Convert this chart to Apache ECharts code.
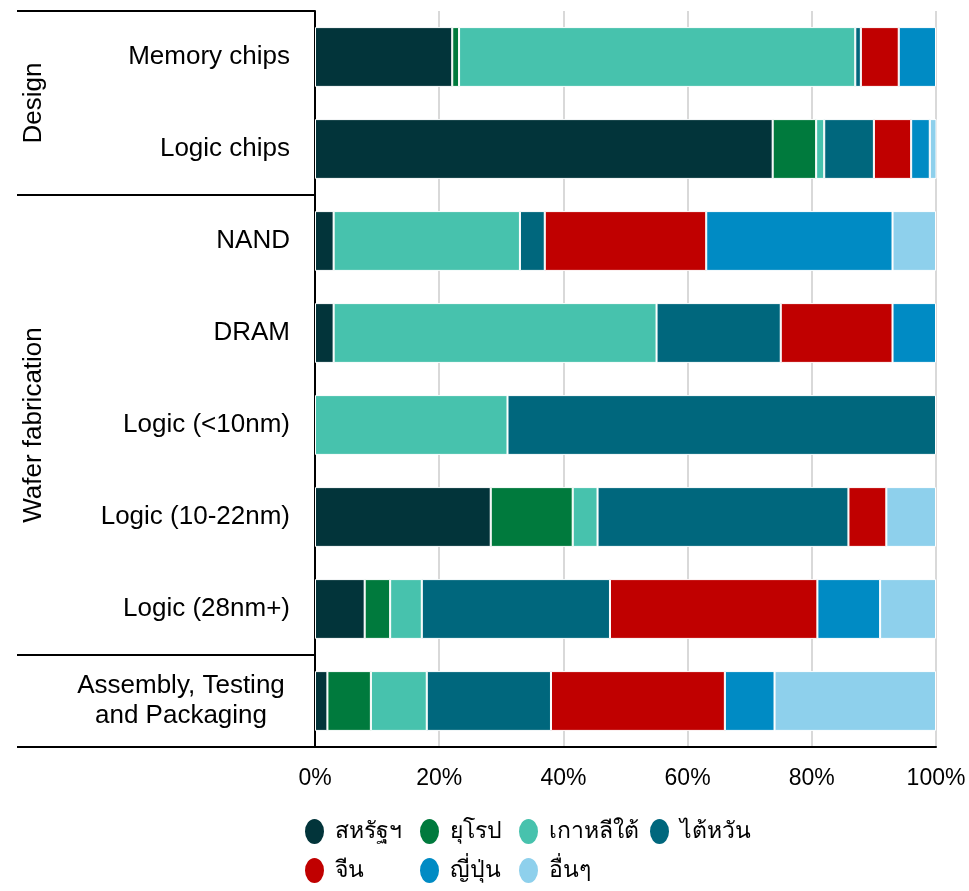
<!DOCTYPE html>
<html><head><meta charset="utf-8">
<script src="https://cdn.jsdelivr.net/npm/echarts@6/dist/echarts.min.js"></script>
<style>html,body{margin:0;padding:0;background:#fff}#c{width:969px;height:891px}</style>
</head><body><div id="c"></div>
<script>
const categories = ['Memory chips','Logic chips','NAND','DRAM','Logic (<10nm)','Logic (10-22nm)','Logic (28nm+)','Assembly, Testing\nand Packaging'];
const seriesNames = ['สหรัฐฯ','ยุโรป','เกาหลีใต้','ไต้หวัน','จีน','ญี่ปุ่น','อื่นๆ'];
const usa    = [22.1, 73.7,  3,  3,  0, 28.3,  8.0,  2];
const europe = [ 1.1,  7.0,  0,  0,  0, 13.2,  4.1,  7];
const korea  = [63.8,  1.3, 30, 52, 31,  4.0,  5.1,  9];
const taiwan = [ 0.9,  8.0,  4, 20, 69, 40.4, 30.3, 20];
const china  = [ 6.1,  6.0, 26, 18,  0,  6.1, 33.4, 28];
const japan  = [ 6.0,  3.0, 30,  7,  0,  0.0, 10.1,  8];
const others = [ 0.0,  1.1,  7,  0,  0,  8.0,  9.0, 26];
const groupNames = ['Design', 'Wafer fabrication', ''];
const groupStarts = [0, 2, 7];
const groupEnds = [1, 6, 7];
const xTickMin = 0, xTickMax = 100, xTickStep = 20;
const colors = ['#02343a','#007a3d','#47c2ad','#00677d','#c00000','#008bc4','#8ed0ec'];
const seriesValues = [usa, europe, korea, taiwan, china, japan, others];

const FONT = '"Liberation Sans", Arial, "Noto Sans", sans-serif';
const chart = echarts.init(document.getElementById('c'), null, {renderer: 'canvas'});

const legendPos = [[303,817],[418,817],[517,817],[648,817],[303,856],[418,856],[517,856]];
const ellipse = 'path://M0,1a1,1 0 1,0 2,0a1,1 0 1,0 -2,0z';

const option = {
  animation: false,
  backgroundColor: '#fff',
  textStyle: {fontFamily: FONT},
  grid: {left: 315, right: 33, top: 11, bottom: 144, containLabel: false},
  xAxis: {
    type: 'value', min: xTickMin, max: xTickMax, interval: xTickStep,
    axisLine: {show: true, lineStyle: {color: '#000', width: 2}},
    axisTick: {show: false},
    axisLabel: {formatter: '{value}%', fontSize: 23, color: '#000', margin: 20, fontFamily: FONT},
    splitLine: {show: true, lineStyle: {color: '#d9d9d9', width: 2}}
  },
  yAxis: {
    type: 'category', inverse: true, data: categories,
    axisLine: {show: true, lineStyle: {color: '#000', width: 2}},
    axisTick: {show: false},
    axisLabel: {
      fontSize: 26, color: '#000', margin: 25, fontFamily: FONT, lineHeight: 30,
      formatter: function (v) {
        if (v.indexOf('\n') >= 0) return v.split('\n').map(s => '{c|' + s + '}').join('\n');
        return v;
      },
      rich: {c: {fontSize: 26, color: '#000', fontFamily: FONT, width: 218, align: 'center', lineHeight: 30}}
    }
  },
  legend: seriesNames.map((n, i) => ({
    data: [n], left: legendPos[i][0], top: legendPos[i][1], orient: 'horizontal',
    icon: ellipse, itemWidth: 21, itemHeight: 27, padding: 0, symbolKeepAspect: false,
    textStyle: {fontSize: 23, color: '#000', fontFamily: FONT, padding: [0,0,0,5], lineHeight: 27},
    selectedMode: false
  })),
  series: seriesNames.map((n, i) => ({
    name: n, type: 'bar', stack: 'total', barCategoryGap: '35%',
    itemStyle: {color: colors[i], borderColor: '#fff', borderWidth: 1},
    emphasis: {disabled: true},
    data: seriesValues[i].map(v => v === 0 ? null : v)
  }))
};
chart.setOption(option);

// decorations derived from the axes
const c0 = chart.convertToPixel({yAxisIndex: 0}, 0);
const c1 = chart.convertToPixel({yAxisIndex: 0}, 1);
const band = c1 - c0;
const xLeft = chart.convertToPixel({xAxisIndex: 0}, xTickMin);
const bound = k => c0 - band / 2 + k * band;
const graphics = [];
const ys = new Set();
groupStarts.forEach((s, i) => { ys.add(s); ys.add(groupEnds[i] + 1); });
ys.forEach(k => {
  graphics.push({type: 'line', shape: {x1: 17, y1: bound(k), x2: xLeft, y2: bound(k)},
    style: {stroke: '#000', lineWidth: 2}, z: 10});
});
groupNames.forEach((g, i) => {
  if (!g) return;
  const yc = (bound(groupStarts[i]) + bound(groupEnds[i] + 1)) / 2;
  graphics.push({type: 'text', x: 34, y: yc, rotation: Math.PI / 2,
    style: {text: g, fontSize: 26, fill: '#000', fontFamily: FONT, align: 'center', verticalAlign: 'middle'}, z: 10});
});
chart.setOption({graphic: graphics});
</script>
</body></html>
